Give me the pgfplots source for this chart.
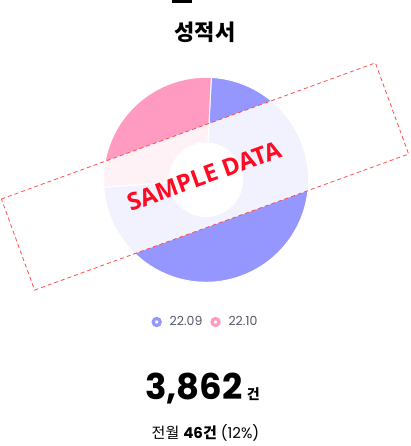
\documentclass[border=0pt]{standalone}
\usepackage{fontspec}
\setmainfont{Poppins}
\newfontfamily\kr{Noto Sans CJK KR}
\newfontfamily\wm{Open Sans}
\usepackage{pgfplots}
\pgfplotsset{compat=1.18}
\usepackage{pgfplotstable}
\usepgfplotslibrary{fillbetween}

\definecolor{cSep}{HTML}{9696FF}
\definecolor{cOct}{HTML}{FF9AC0}
\definecolor{legtext}{HTML}{55556A}
\definecolor{wmred}{HTML}{FF0A22}
\definecolor{wmline}{HTML}{FF4D4D}

% share of each month in the donut
\pgfplotstableread{
month value
22.09 73
22.10 27
}\donut

\begin{document}
\begin{tikzpicture}
\pgfplotstablegetelem{0}{value}\of\donut \let\va\pgfplotsretval
\pgfplotstablegetelem{1}{value}\of\donut \let\vb\pgfplotsretval
\pgfmathsetmacro\angstart{87}
\pgfmathsetmacro\share{\va/(\va+\vb)}
\pgfmathsetmacro\angsplit{\angstart-360*\share}
\pgfmathsetmacro\angend{\angstart-360}

\begin{axis}[
at={(0pt,0pt)}, anchor=south west,
scale only axis,
width=411pt, height=446pt,
xmin=0, xmax=411,
ymin=0, ymax=446,
hide axis,
clip=false,
legend columns=2,
legend style={at={(0.5,0.278)}, anchor=center, draw=none, fill=none,
  font=\fontsize{12.5}{14}\selectfont, nodes={text=legtext, inner xsep=2pt},
  /tikz/every even column/.append style={column sep=6pt}},
legend image code/.code={\path[draw=none] (-5pt,0pt) -- (11pt,0pt);
  \draw[#1, fill=white, line width=3.2pt] (0pt,0pt) circle (3.5pt);},
]

% page frame (invisible)
\addplot[draw=none, forget plot] coordinates {(0,0) (411,446)};

% cropped bar at the very top
\addplot[fill=black, draw=none, forget plot] coordinates {(172,443.3) (192,443.3) (192,446) (172,446)} -- cycle;

% donut: 22.09
\addplot[draw=none, forget plot, name path=poA, domain=\angsplit:\angstart, samples=90] ({206+102.5*cos(x)},{266.2+102.5*sin(x)});
\addplot[draw=none, forget plot, name path=piA, domain=\angsplit:\angstart, samples=50] ({206+36.7*cos(x)},{266.2+36.7*sin(x)});
\addplot[fill=cSep, draw=white, line width=1pt, forget plot] fill between[of=poA and piA];

% donut: 22.10
\addplot[draw=none, forget plot, name path=poB, domain=\angend:\angsplit, samples=40] ({206+102.5*cos(x)},{266.2+102.5*sin(x)});
\addplot[draw=none, forget plot, name path=piB, domain=\angend:\angsplit, samples=25] ({206+36.7*cos(x)},{266.2+36.7*sin(x)});
\addplot[fill=cOct, draw=white, line width=1pt, forget plot] fill between[of=poB and piB];

% watermark band
\addplot[fill=white, fill opacity=0.88, draw=wmline, draw opacity=1, line width=0.8pt,
  dash pattern=on 4pt off 3pt, forget plot]
  coordinates {(1.4,247.0) (375.4,383.1) (408.6,292.0) (34.6,155.9)} -- cycle;

\node[rotate=20, text=wmred, font=\wm\bfseries\fontsize{24}{28}\selectfont] at (axis cs:204,270) {SAMPLE DATA};

\node[font=\kr\bfseries\fontsize{22}{26}\selectfont] at (axis cs:205,413.5) {성적서};

\addlegendimage{draw=cSep}
\addlegendentry{22.09}
\addlegendimage{draw=cOct}
\addlegendentry{22.10}

\node[anchor=base] at (axis cs:202.5,46.7) {\fontsize{35.5}{40}\selectfont\bfseries 3,862\hspace{4pt}{\kr\fontsize{14}{16}\selectfont 건}};
\node[anchor=base] at (axis cs:205.5,7.3) {\fontsize{15}{18}\selectfont{\kr 전월} \textbf{46}{\kr\bfseries 건} (12\%)};

\end{axis}
\end{tikzpicture}
\end{document}
